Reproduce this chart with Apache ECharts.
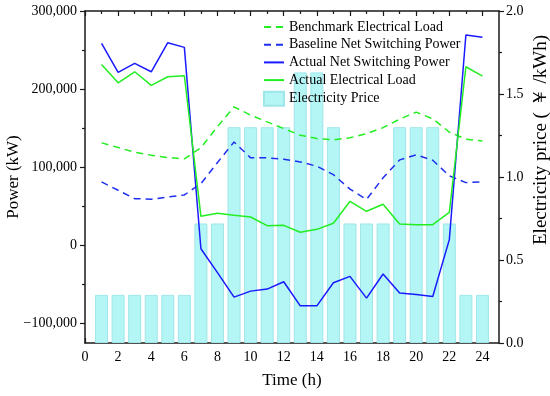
<!DOCTYPE html>
<html>
<head>
<meta charset="utf-8">
<script src="https://cdn.jsdelivr.net/npm/echarts@6/dist/echarts.min.js"></script>
<style>html,body{margin:0;padding:0;background:#fff}#c{width:550px;height:396px}</style>
</head>
<body>
<div id="c"></div>
<script>
const hours = [1,2,3,4,5,6,7,8,9,10,11,12,13,14,15,16,17,18,19,20,21,22,23,24];
const price = [0.29,0.29,0.29,0.29,0.29,0.29,0.72,0.72,1.30,1.30,1.30,1.30,1.63,1.63,1.30,0.72,0.72,0.72,1.30,1.30,1.30,0.72,0.29,0.29];
const actualNet = [258600,221400,232900,222200,259400,253400,-4300,-35000,-66300,-58600,-56000,-46600,-77400,-77400,-47900,-39700,-67500,-36700,-61100,-62800,-65400,7300,269200,266300];
const actualLoad = [231600,208100,222200,204700,215800,217100,37200,41000,38500,36300,25200,25600,16700,20500,28200,56400,43600,52600,27400,26500,26500,42300,228600,216700];
const benchmarkLoad = [131200,125200,119200,115400,112400,110700,125000,152000,177300,166700,158000,149600,141000,136700,135000,137800,143000,150700,161500,170500,162000,145000,135900,133700];
const baselineNet = [81200,70500,59800,59000,61900,64500,79000,106000,132400,112000,112000,110300,106800,101300,90500,72000,58800,86500,109400,115800,109000,89000,80300,81200];
const xMajorTicks = [0,2,4,6,8,10,12,14,16,18,20,22,24];
const xMinorTicks = [1,3,5,7,9,11,13,15,17,19,21,23];
const yLeftMajor = [-100000,0,100000,200000,300000];
const yLeftMinor = [-50000,50000,150000,250000];

const FONT = 'Liberation Serif';
const AX = '#1a1a1a';
const pair = arr => hours.map((h,i)=>[h,arr[i]]);
const fmtPower = v => Math.round(v).toString().replace(/\B(?=(\d{3})+(?!\d))/g, ',').replace('-', '\u2212');
const hideSym = {opacity:0};

const chart = echarts.init(document.getElementById('c'), null, {renderer:'canvas'});
chart.setOption({
  animation:false,
  backgroundColor:'#fff',
  textStyle:{fontFamily:FONT,color:'#000'},
  grid:{left:85,right:51,top:11,bottom:53,containLabel:false,outerBoundsMode:'none'},
  legend:{
    orient:'vertical', left:258, top:15, itemWidth:20, itemHeight:14, itemGap:3.7,
    textStyle:{fontFamily:FONT,fontSize:14,color:'#000'},
    data:[
      {name:'Benchmark Electrical Load',itemStyle:hideSym},
      {name:'Baseline Net Switching Power',itemStyle:hideSym},
      {name:'Actual Net Switching Power',itemStyle:hideSym},
      {name:'Actual Electrical Load',itemStyle:hideSym},
      {name:'Electricity Price',icon:'rect'}]
  },
  xAxis:[
    {type:'value',position:'bottom',min:0,max:25,
     name:'Time (h)',nameLocation:'middle',nameGap:29,nameTextStyle:{fontFamily:FONT,fontSize:17,color:'#000'},
     axisLine:{onZero:false,lineStyle:{color:AX,width:1.5}},
     axisTick:{inside:true,length:5,customValues:xMajorTicks,lineStyle:{color:AX,width:1.2}},
     axisLabel:{customValues:xMajorTicks,fontFamily:FONT,fontSize:14,color:'#000',margin:7},
     splitLine:{show:false}},
    {type:'value',position:'bottom',min:0,max:25,
     axisLine:{show:false,onZero:false},
     axisTick:{inside:true,length:3,customValues:xMinorTicks,lineStyle:{color:AX,width:1.2}},
     axisLabel:{show:false},splitLine:{show:false}},
    {type:'value',position:'top',min:0,max:25,
     axisLine:{onZero:false,lineStyle:{color:AX,width:1.5}},
     axisTick:{inside:true,length:5,customValues:xMajorTicks,lineStyle:{color:AX,width:1.2}},
     axisLabel:{show:false},splitLine:{show:false}},
    {type:'value',position:'top',min:0,max:25,
     axisLine:{show:false,onZero:false},
     axisTick:{inside:true,length:3,customValues:xMinorTicks,lineStyle:{color:AX,width:1.2}},
     axisLabel:{show:false},splitLine:{show:false}}
  ],
  yAxis:[
    {type:'value',position:'left',min:-125000,max:300000,
     name:'Power (kW)',nameLocation:'middle',nameGap:63,nameMoveOverlap:false,
     nameTextStyle:{fontFamily:FONT,fontSize:17,color:'#000'},
     axisLine:{show:true,onZero:false,lineStyle:{color:AX,width:1.5}},
     axisTick:{show:true,length:5,customValues:yLeftMajor,lineStyle:{color:AX,width:1.2}},
     axisLabel:{customValues:yLeftMajor,formatter:fmtPower,fontFamily:FONT,fontSize:14,color:'#000',margin:8},
     splitLine:{show:false}},
    {type:'value',position:'right',min:0,max:2,interval:0.5,
     name:'Electricity price ( \uFFE5 /kWh)',nameLocation:'middle',nameGap:33,nameMoveOverlap:false,
     nameTextStyle:{fontFamily:FONT,fontSize:19,color:'#000',padding:[0,0,0,74]},
     axisLine:{show:true,onZero:false,lineStyle:{color:AX,width:1.5}},
     axisTick:{show:true,length:5,lineStyle:{color:AX,width:1.2}},
     minorTick:{show:true,splitNumber:2,length:3,lineStyle:{color:AX,width:1.2}},
     axisLabel:{formatter:v=>v.toFixed(1),fontFamily:FONT,fontSize:14,color:'#000',margin:7},
     splitLine:{show:false}},
    {type:'value',position:'left',min:-125000,max:300000,
     axisLine:{show:false,onZero:false},
     axisTick:{show:true,length:3,customValues:yLeftMinor,lineStyle:{color:AX,width:1.2}},
     axisLabel:{show:false},splitLine:{show:false}}
  ],
  series:[
    {name:'Electricity Price',type:'bar',xAxisIndex:0,yAxisIndex:1,barWidth:13,z:1,
     itemStyle:{color:'#b4f5f6',borderColor:'#9fe6e8',borderWidth:1},
     data:pair(price)},
    {name:'Benchmark Electrical Load',type:'line',xAxisIndex:0,yAxisIndex:0,symbol:'none',z:3,
     lineStyle:{color:'#22ee22',width:1.5,type:[7,5]},itemStyle:{color:'#22ee22'},
     data:pair(benchmarkLoad)},
    {name:'Baseline Net Switching Power',type:'line',xAxisIndex:0,yAxisIndex:0,symbol:'none',z:3,
     lineStyle:{color:'#1f2ff0',width:1.5,type:[7,5]},itemStyle:{color:'#1f2ff0'},
     data:pair(baselineNet)},
    {name:'Actual Net Switching Power',type:'line',xAxisIndex:0,yAxisIndex:0,symbol:'none',z:3,
     lineStyle:{color:'#1a1aff',width:1.5},itemStyle:{color:'#1a1aff'},
     data:pair(actualNet)},
    {name:'Actual Electrical Load',type:'line',xAxisIndex:0,yAxisIndex:0,symbol:'none',z:3,
     lineStyle:{color:'#22ee22',width:1.5},itemStyle:{color:'#22ee22'},
     data:pair(actualLoad)}
  ]
});
</script>
</body>
</html>
